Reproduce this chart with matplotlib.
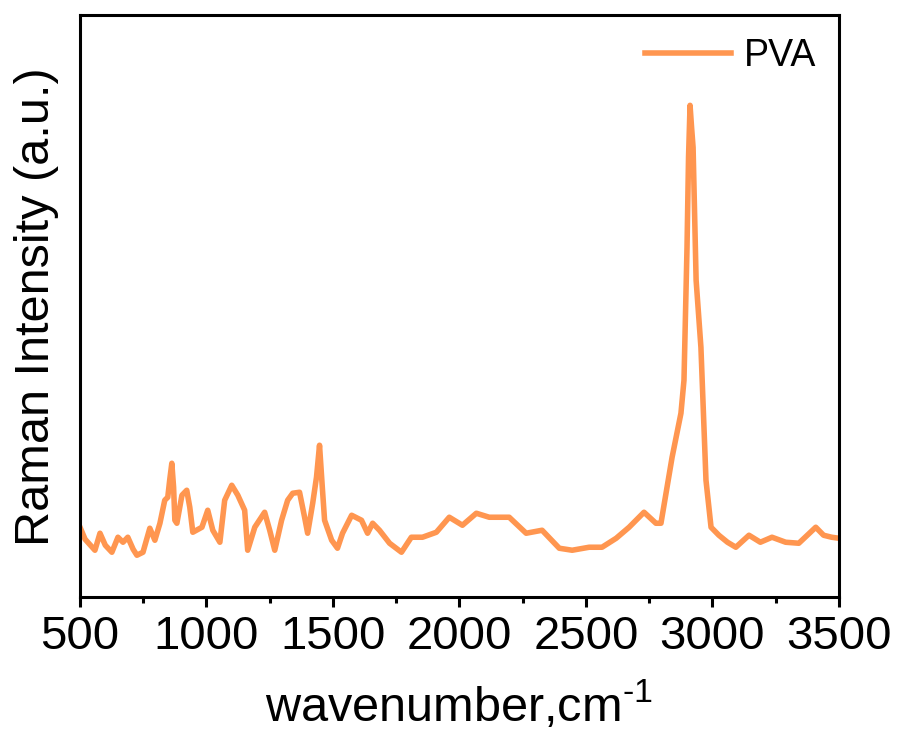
import numpy as np
import matplotlib.pyplot as plt
from matplotlib.ticker import MultipleLocator

plt.rcParams['font.family'] = ['Liberation Sans', 'DejaVu Sans']
plt.rcParams['mathtext.fontset'] = 'custom'
plt.rcParams['mathtext.rm'] = 'Liberation Sans'

# Raman spectrum of PVA (arbitrary units)
wavenumber = [500, 520, 559, 579, 600, 626, 650, 670, 689, 710, 725, 749, 776, 796, 816,
              835, 847, 855, 863, 870, 875, 883, 903, 922, 934, 946, 982, 1005, 1025,
              1053, 1072, 1100, 1124, 1151, 1163, 1191, 1230, 1250, 1270, 1297, 1321,
              1341, 1368, 1388, 1400, 1420, 1435, 1447, 1458, 1467, 1495, 1518, 1538,
              1574, 1613, 1637, 1657, 1684, 1724, 1771, 1810, 1854, 1909, 1960, 2012,
              2067, 2118, 2197, 2264, 2327, 2395, 2446, 2513, 2564, 2620, 2671, 2730,
              2777, 2797, 2817, 2841, 2876, 2888, 2900, 2906, 2912, 2918, 2924, 2936,
              2955, 2975, 2995, 3026, 3060, 3093, 3145, 3190, 3236, 3290, 3342, 3409,
              3440, 3472, 3500]
intensity = [70, 58, 47, 64, 52, 45, 60, 55, 60, 48, 42, 45, 69, 57, 74,
             97, 100, 118, 134, 110, 77, 74, 102, 107, 90, 65, 70, 87, 67,
             55, 97, 112, 102, 87, 47, 70, 85, 67, 47, 77, 97,
             104, 105, 80, 64, 94, 120, 152, 110, 77, 57, 49, 64,
             82, 77, 64, 74, 67, 54, 45, 60, 60, 65, 80, 72,
             84, 80, 80, 64, 67, 49, 47, 50, 50, 59, 70, 85,
             74, 74, 104, 140, 184, 217, 350, 440, 492, 470, 450, 317,
             250, 117, 70, 62, 55, 50, 62, 55, 60, 55, 54, 70,
             62, 60, 59]

fig = plt.figure(figsize=(8.99, 7.31), dpi=100)
ax = fig.add_axes([0.089, 0.183, 0.844, 0.796])

ax.plot(wavenumber, intensity, color='#FF9650', lw=4, label='PVA',
        solid_joinstyle='round')

ax.set_xlim(500, 3500)
ax.set_ylim(0, 582)
ax.xaxis.set_major_locator(MultipleLocator(500))
ax.xaxis.set_minor_locator(MultipleLocator(250))
ax.set_yticks([])

ax.tick_params(axis='x', which='major', direction='out', length=7, width=2.2,
               labelsize=34, pad=6, top=False)
ax.tick_params(axis='x', which='minor', direction='out', length=4, width=2.2, top=False)
for s in ax.spines.values():
    s.set_linewidth(2.2)

# U+2010 hyphen so the superscript shows a short dash like the original
ax.set_xlabel('wavenumber,cm$^{\\mathregular{\u20101}}$', fontsize=35, labelpad=14)
ax.set_ylabel('Raman Intensity (a.u.)', fontsize=35, labelpad=15)

ax.legend(loc='upper right', frameon=False, fontsize=27, handlelength=2.3,
          handletextpad=0.35, borderaxespad=0.2)

fig.savefig('out.png', dpi=100)
